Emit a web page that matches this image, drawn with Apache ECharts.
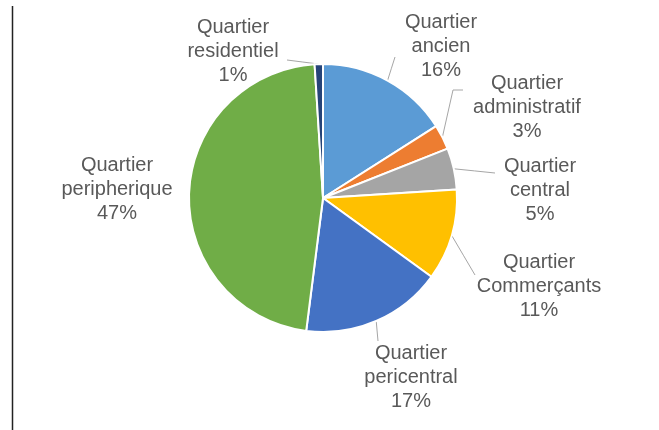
<!DOCTYPE html>
<html>
<head>
<meta charset="utf-8">
<script src="https://cdn.jsdelivr.net/npm/echarts@6/dist/echarts.min.js"></script>
<style>
html,body{margin:0;padding:0;background:#fff;}
#chart{width:659px;height:430px;}
</style>
</head>
<body>
<div id="chart"></div>
<script>
const categories = ['Quartier ancien','Quartier administratif','Quartier central','Quartier Commerçants','Quartier pericentral','Quartier peripherique','Quartier residentiel'];
const values = [16, 3, 5, 11, 17, 47, 1];
const colors = ['#5B9BD5','#ED7D31','#A5A5A5','#FFC000','#4472C4','#70AD47','#264478'];
// label placement (layout, not data)
const labelCenters = [[441,46],[527,107],[540,190],[539,286],[411,377],[117,189],[233,51]];
const leaderBends = [null,[453,90],null,null,null,null,null];
const leaderEnds = [[395,57],[463,90],[495,173],[475,275],[378,341],null,[287,60]];

const CX = 323, CY = 198, R = 134;
const total = values.reduce((a, b) => a + b, 0);
function edgePoint(i) {
  let before = 0;
  for (let k = 0; k < i; k++) before += values[k];
  const frac = (before + values[i] / 2) / total;
  const ang = frac * 2 * Math.PI;
  return [CX + R * Math.sin(ang), CY - R * Math.cos(ang)];
}

const chart = echarts.init(document.getElementById('chart'), null, {renderer:'canvas'});
chart.setOption({
  animation: false,
  backgroundColor: '#fff',
  color: colors,
  graphic: [{
    type: 'line',
    shape: {x1: 12.5, y1: 6, x2: 12.5, y2: 430},
    style: {stroke: '#222', lineWidth: 1.5}
  }],
  series: [{
    type: 'pie',
    center: [CX, CY],
    radius: R,
    startAngle: 90,
    clockwise: true,
    percentPrecision: 0,
    itemStyle: {borderColor: '#fff', borderWidth: 2},
    label: {
      show: true,
      position: 'outside',
      formatter: p => p.name.replace(' ', '\n') + '\n' + p.percent + '%',
      fontFamily: 'Liberation Sans, Arial, sans-serif',
      fontSize: 20,
      lineHeight: 24,
      color: '#595959',
      align: 'center'
    },
    labelLine: {
      show: true,
      length: 10,
      length2: 10,
      lineStyle: {color: '#a6a6a6', width: 1}
    },
    labelLayout: function (params) {
      const i = params.dataIndex;
      const c = labelCenters[i];
      const out = {x: c[0], y: c[1], align: 'center', verticalAlign: 'middle'};
      if (leaderEnds[i]) {
        const s = edgePoint(i);
        const e = leaderEnds[i];
        const m = leaderBends[i] || [(s[0] + e[0]) / 2, (s[1] + e[1]) / 2];
        out.labelLinePoints = [s, m, e];
      }
      return out;
    },
    data: categories.map((n, i) => ({
      name: n,
      value: values[i],
      labelLine: {show: !!leaderEnds[i]}
    }))
  }]
});
</script>
</body>
</html>
